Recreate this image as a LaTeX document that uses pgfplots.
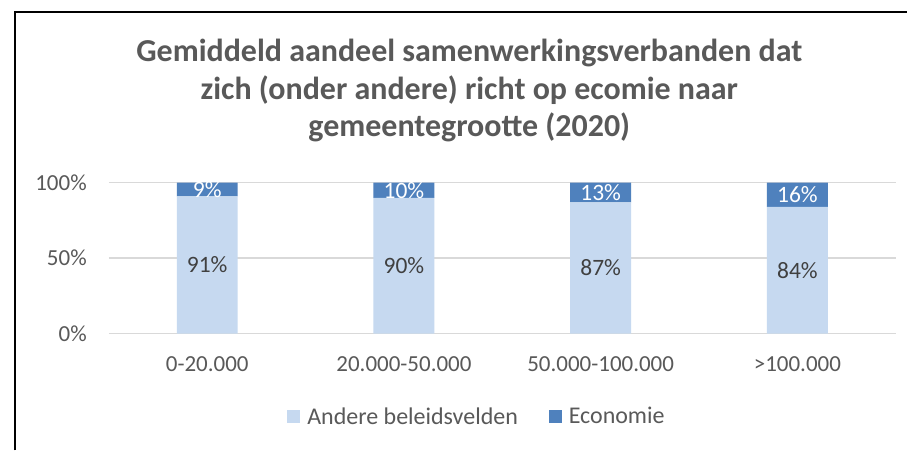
\documentclass[border=0pt]{standalone}
\usepackage{fontspec}
\setmainfont{Carlito}
\usepackage{pgfplots}
\pgfplotsset{compat=1.18}
\definecolor{lichtblauw}{HTML}{C6D9F0}
\definecolor{donkerblauw}{HTML}{4F81BD}
\definecolor{tekstgrijs}{HTML}{595959}
\definecolor{labelgrijs}{HTML}{404040}
\definecolor{rastergrijs}{HTML}{D9D9D9}
\begin{document}
\begin{tikzpicture}
% achtergrond en kader
\fill[white] (-109pt,-117pt) rectangle (799pt,334pt);
\draw[line width=2.5pt] (-94pt,-117pt) -- (-94pt,322pt) -- (799pt,322pt);
% titel
\begin{scope}[every node/.style={anchor=base, text=tekstgrijs, font=\fontsize{32}{36}\selectfont\bfseries, inner sep=0pt}]
\node at (361pt,272pt) {Gemiddeld aandeel samenwerkingsverbanden dat};
\node at (361pt,234pt) {zich (onder andere) richt op ecomie naar};
\node at (361pt,197pt) {gemeentegrootte (2020)};
\end{scope}
\begin{axis}[
    scale only axis,
    width=788pt, height=151pt,
    ybar stacked,
    bar width=61pt,
    xmin=-0.5, xmax=3.5,
    ymin=0, ymax=100,
    xtick={0,1,2,3},
    xticklabels={0-20.000, 20.000-50.000, 50.000-100.000, >100.000},
    ytick={0,50,100},
    yticklabels={0\%, 50\%, 100\%},
    axis line style={draw=none},
    tick style={draw=none},
    ymajorgrids,
    grid style={rastergrijs, line width=1.5pt},
    tick label style={font=\fontsize{23}{28}\selectfont, text=tekstgrijs, inner sep=0pt},
    xticklabel style={yshift=-23pt},
    yticklabel style={xshift=-22pt},
    clip=false,
    /pgf/number format/assume math mode=true,
    point meta=rawy,
    nodes near coords={\pgfmathprintnumber{\pgfplotspointmeta}\%},
    every node near coord/.append style={anchor=center, inner sep=0pt,
        font=\fontsize{23.5}{28}\selectfont},
    legend columns=2,
    legend style={at={(0.4665,-0.55)}, anchor=center, draw=none, fill=none,
        font=\fontsize{24}{28}\selectfont, text=tekstgrijs,
        nodes={inner sep=0pt},
        /tikz/every odd column/.append style={column sep=7pt},
        /tikz/every even column/.append style={column sep=31pt}},
    legend image code/.code={\fill[#1, draw=none] (0pt,-6.5pt) rectangle (13pt,6.5pt);},
]
\addplot[fill=lichtblauw, draw=none, every node near coord/.append style={text=labelgrijs}]
    coordinates {(0,91) (1,90) (2,87) (3,84)};
\addplot[fill=donkerblauw, draw=none, every node near coord/.append style={text=white}]
    coordinates {(0,9) (1,10) (2,13) (3,16)};
\legend{Andere beleidsvelden, Economie}
\end{axis}
\end{tikzpicture}
\end{document}
